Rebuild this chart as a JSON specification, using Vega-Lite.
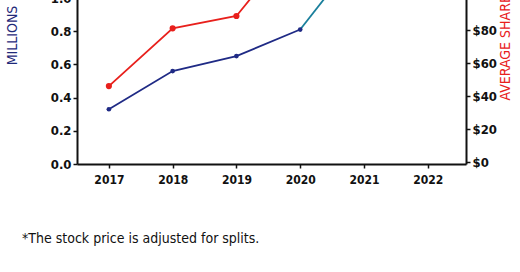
{
  "$schema": "https://vega.github.io/schema/vega-lite/v6.json",
  "width": 389,
  "height": 166,
  "autosize": {"type": "none"},
  "padding": {"left": 77, "top": -2, "right": 54, "bottom": 108},
  "background": "white",
  "config": {
    "view": {"stroke": null},
    "font": "DejaVu Sans Condensed",
    "axis": {
      "grid": false,
      "domainColor": "#111111",
      "domainWidth": 2,
      "tickColor": "#111111",
      "tickWidth": 1.5,
      "tickSize": 4,
      "labelColor": "#111111",
      "labelFont": "DejaVu Sans Condensed",
      "labelFontWeight": "bold",
      "labelFontSize": 13,
      "titleFont": "DejaVu Sans Condensed",
      "titleFontWeight": "normal",
      "titleFontSize": 14
    }
  },
  "title": {
    "text": "*The stock price is adjusted for splits.",
    "orient": "bottom",
    "anchor": "start",
    "frame": "group",
    "dx": -55,
    "offset": 47,
    "font": "DejaVu Sans Condensed",
    "fontSize": 14,
    "fontWeight": "normal",
    "color": "#111111"
  },
  "datasets": {
    "users": [
      {"year": 2017, "millions": 0.33},
      {"year": 2018, "millions": 0.56},
      {"year": 2019, "millions": 0.65},
      {"year": 2020, "millions": 0.81}
    ],
    "usersNext": [
      {"year": 2020, "millions": 0.81},
      {"year": 2021, "millions": 1.3}
    ],
    "price": [
      {"year": 2017, "price": 46},
      {"year": 2018, "price": 81},
      {"year": 2019, "price": 88.5},
      {"year": 2020, "price": 136}
    ]
  },
  "encoding": {
    "x": {
      "field": "year",
      "type": "quantitative",
      "scale": {"domain": [2016.5, 2022.6], "nice": false, "zero": false},
      "axis": {"values": [2017, 2018, 2019, 2020, 2021, 2022], "format": "d", "title": null, "labelFontSize": 12, "labelPadding": 6}
    }
  },
  "layer": [
    {
      "encoding": {
        "y": {
          "field": "millions",
          "type": "quantitative",
          "scale": {"domain": [0, 1.0], "nice": false},
          "axis": {
            "orient": "left",
            "values": [0, 0.2, 0.4, 0.6, 0.8, 1.0],
            "format": ".1f",
            "title": "MILLIONS",
            "titleColor": "#1f2a7a",
            "titleAngle": -90,
            "titleX": -65,
            "titleY": 37,
            "titleAlign": "center",
            "titleBaseline": "middle"
          }
        }
      },
      "layer": [
        {"data": {"name": "users"}, "mark": {"type": "line", "color": "#1f2a85", "strokeWidth": 1.8, "clip": true}},
        {"data": {"name": "usersNext"}, "mark": {"type": "line", "color": "#1a7f9c", "strokeWidth": 1.8, "clip": true}},
        {"data": {"name": "users"}, "mark": {"type": "point", "filled": true, "opacity": 1, "size": 22, "color": "#1f2a85", "clip": true}}
      ]
    },
    {
      "data": {"name": "price"},
      "encoding": {
        "y": {
          "field": "price",
          "type": "quantitative",
          "scale": {"domain": [-1.2, 99.4], "nice": false, "zero": false},
          "axis": {
            "orient": "right",
            "values": [0, 20, 40, 60, 80, 100],
            "labelExpr": "'$' + datum.value",
            "title": "AVERAGE SHARE PRICE*",
            "titleColor": "#e8201c",
            "titleAngle": -90,
            "titleX": 39,
            "titleY": 102,
            "titleAlign": "left",
            "titleBaseline": "middle"
          }
        }
      },
      "layer": [
        {"mark": {"type": "line", "color": "#e8201c", "strokeWidth": 1.8, "clip": true}},
        {"mark": {"type": "point", "filled": true, "opacity": 1, "size": 38, "color": "#e8201c", "clip": true}}
      ]
    }
  ],
  "resolve": {"scale": {"y": "independent"}}
}
